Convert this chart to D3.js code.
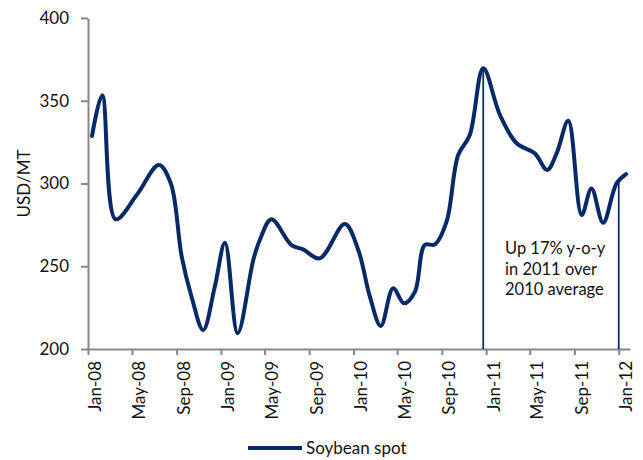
<!DOCTYPE html>
<html>
<head>
<meta charset="utf-8">
<script src="https://cdn.jsdelivr.net/npm/d3@7"></script>
<style>
  html, body { margin: 0; padding: 0; background: #fff; }
  svg { display: block; font-family: Lato, "Open Sans", sans-serif; }
</style>
</head>
<body>
<svg id="chart" width="643" height="460"></svg>
<script>
// Soybean spot price, USD per metric tonne
const dates = [
  "2008-01-12", "2008-02-09", "2008-03-17", "2008-05-14", "2008-07-14", "2008-08-16",
  "2008-09-15", "2008-10-12", "2008-11-13", "2008-12-15", "2009-01-12", "2009-02-16",
  "2009-03-31", "2009-04-18", "2009-05-20", "2009-07-14", "2009-08-15", "2009-09-30",
  "2009-12-08", "2010-01-14", "2010-02-15", "2010-03-17", "2010-04-20", "2010-05-20",
  "2010-06-19", "2010-07-16", "2010-08-13", "2010-09-14", "2010-10-16", "2010-11-17",
  "2010-12-24", "2011-02-08", "2011-03-26", "2011-05-15", "2011-06-18", "2011-07-14",
  "2011-08-15", "2011-09-21", "2011-10-18", "2011-11-19", "2011-12-26", "2012-01-21"
];
const prices = [
  328.7, 353.4, 278.4, 293.0, 311.2, 300.0,
  255.8, 231.6, 211.5, 237.6, 264.2, 209.5,
  253.8, 265.9, 278.4, 262.8, 260.2, 254.8,
  275.5, 259.8, 231.6, 213.9, 236.7, 227.6,
  234.6, 262.8, 263.2, 276.9, 317.2, 329.3,
  369.6, 341.4, 324.3, 318.2, 308.2, 318.2,
  337.9, 281.0, 297.0, 276.3, 300.1, 305.7
];

const yTicks = [200, 250, 300, 350, 400];
const xTickDates = [
  "2008-01-01", "2008-05-01", "2008-09-01", "2009-01-01", "2009-05-01", "2009-09-01",
  "2010-01-01", "2010-05-01", "2010-09-01", "2011-01-01", "2011-05-01", "2011-09-01",
  "2012-01-01"
];
const xTickLabels = [
  "Jan-08", "May-08", "Sep-08", "Jan-09", "May-09", "Sep-09",
  "Jan-10", "May-10", "Sep-10", "Jan-11", "May-11", "Sep-11", "Jan-12"
];

// Drop lines marking the Dec-2010 peak and the Jan-2012 level
const markerDates = ["2010-12-24", "2012-01-01"];
const markerValues = [369.6, 302.0];

const noteLines = ["Up 17% y-o-y", "in 2011 over", "2010 average"];
const seriesName = "Soybean spot";
const yTitle = "USD/MT";

const parse = d3.utcParse("%Y-%m-%d");
const series = dates.map((d, i) => ({ date: parse(d), value: prices[i] }));

const navy = "#062a68";
const axisGrey = "#878787";
const textFont = "Lato, sans-serif";

const svg = d3.select("#chart");

const x = d3.scaleUtc()
  .domain([parse("2008-01-01"), parse("2012-02-01")])
  .range([88, 630]);
const y = d3.scaleLinear()
  .domain([200, 400])
  .range([349, 18]);

// y axis
const yAxis = svg.append("g")
  .attr("transform", `translate(${x.range()[0]},0)`)
  .call(d3.axisLeft(y).tickValues(yTicks).tickSize(7).tickPadding(12).tickSizeOuter(0));
yAxis.select(".domain").attr("stroke", axisGrey).attr("stroke-width", 2);
yAxis.selectAll(".tick line").attr("stroke", axisGrey).attr("stroke-width", 2);
yAxis.selectAll(".tick text")
  .attr("fill", "#111")
  .style("font-size", "17px")
  .style("font-family", textFont);

// x axis
const xTicks = xTickDates.map(parse);
const xAxis = svg.append("g")
  .attr("transform", `translate(0,${y.range()[0]})`)
  .call(d3.axisBottom(x).tickValues(xTicks).tickSize(6).tickSizeOuter(0).tickFormat((d, i) => xTickLabels[i]));
xAxis.select(".domain").attr("stroke", axisGrey).attr("stroke-width", 2);
xAxis.selectAll(".tick line").attr("stroke", axisGrey).attr("stroke-width", 2);
xAxis.selectAll(".tick text")
  .attr("fill", "#111")
  .style("font-size", "17px")
  .style("font-family", textFont)
  .attr("text-anchor", "end")
  .attr("x", 0)
  .attr("y", 0)
  .attr("dy", "0.35em")
  .attr("transform", "translate(7,12) rotate(-90)");

// y title
svg.append("text")
  .attr("transform", `translate(24,${(y.range()[0] + y.range()[1]) / 2}) rotate(-90)`)
  .attr("text-anchor", "middle")
  .attr("dy", "0.35em")
  .attr("fill", "#111")
  .style("font-size", "17px")
  .style("font-family", textFont)
  .text(yTitle);

// drop lines
svg.append("g")
  .selectAll("line")
  .data(markerDates.map((d, i) => ({ date: parse(d), value: markerValues[i] })))
  .join("line")
  .attr("x1", d => x(d.date))
  .attr("x2", d => x(d.date))
  .attr("y1", d => y(d.value))
  .attr("y2", y(200))
  .attr("stroke", navy)
  .attr("stroke-width", 1.75);

// price line
const line = d3.line()
  .x(d => x(d.date))
  .y(d => y(d.value))
  .curve(d3.curveCatmullRom.alpha(0.5));

svg.append("path")
  .datum(series)
  .attr("d", line)
  .attr("fill", "none")
  .attr("stroke", navy)
  .attr("stroke-width", 4)
  .attr("stroke-linejoin", "round")
  .attr("stroke-linecap", "round");

// note text
svg.append("text")
  .attr("x", 505)
  .attr("y", 254)
  .attr("fill", "#111")
  .style("font-size", "16.5px")
  .style("font-family", textFont)
  .selectAll("tspan")
  .data(noteLines)
  .join("tspan")
  .attr("x", 505)
  .attr("dy", (d, i) => i === 0 ? 0 : 20.5)
  .text(d => d);

// legend
const legend = svg.append("g");
legend.append("line")
  .attr("x1", 248).attr("x2", 302)
  .attr("y1", 448).attr("y2", 448)
  .attr("stroke", navy)
  .attr("stroke-width", 4);
legend.append("text")
  .attr("x", 306)
  .attr("y", 448)
  .attr("dy", "0.35em")
  .attr("fill", "#111")
  .style("font-size", "17px")
  .style("font-family", textFont)
  .text(seriesName);
</script>
</body>
</html>
